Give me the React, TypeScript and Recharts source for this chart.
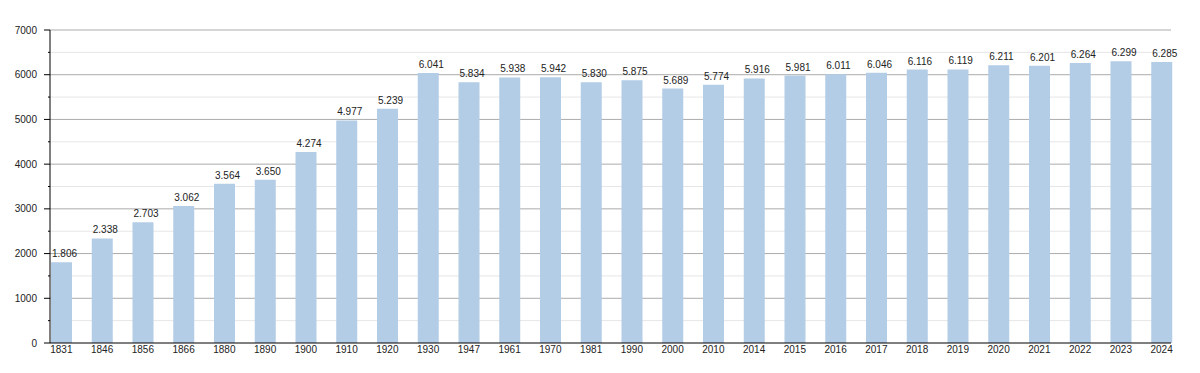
import { Bar, BarChart, CartesianGrid, LabelList, XAxis, YAxis } from "recharts"

const years = ["1831", "1846", "1856", "1866", "1880", "1890", "1900", "1910", "1920", "1930", "1947", "1961", "1970", "1981", "1990", "2000", "2010", "2014", "2015", "2016", "2017", "2018", "2019", "2020", "2021", "2022", "2023", "2024"]
const population = [1806, 2338, 2703, 3062, 3564, 3650, 4274, 4977, 5239, 6041, 5834, 5938, 5942, 5830, 5875, 5689, 5774, 5916, 5981, 6011, 6046, 6116, 6119, 6211, 6201, 6264, 6299, 6285]
const yTicks = [0, 500, 1000, 1500, 2000, 2500, 3000, 3500, 4000, 4500, 5000, 5500, 6000, 6500, 7000]
const majorLines = [1000, 2000, 3000, 4000, 5000, 6000, 7000]
const minorLines = [500, 1500, 2500, 3500, 4500, 5500, 6500]

const data = years.map((year, i) => ({ year, value: population[i] }))

const fmt = (v: number) => String(v).replace(/\B(?=(\d{3})+(?!\d))/g, ".")

const font = "'Liberation Sans', Arial, sans-serif"

function YTick(props: any) {
  const { x, y, payload } = props
  const major = payload.value % 1000 === 0
  return (
    <g>
      <line x1={x - (major ? 6 : 2)} x2={x} y1={y} y2={y} stroke="#000" />
      {major && (
        <text x={x - 13} y={y} dy="0.35em" textAnchor="end" fontSize={10} fill="#222" fontFamily={font}>
          {payload.value}
        </text>
      )}
    </g>
  )
}

function ValueLabel(props: any) {
  const { x, y, value } = props
  return (
    <text x={x + 1} y={y - 5} textAnchor="start" fontSize={10} fill="#222" fontFamily={font}>
      {fmt(value)}
    </text>
  )
}

export default function App() {
  return (
    <div style={{ position: "absolute", left: 0, top: 0, background: "#fff" }}>
      <BarChart width={1200} height={373} data={data} margin={{ top: 30, right: 29, bottom: 0, left: 0 }}>
        <CartesianGrid vertical={false} horizontalValues={minorLines} stroke="#e6e6e6" />
        <CartesianGrid vertical={false} horizontalValues={majorLines} stroke="#ababab" />
        <XAxis
          dataKey="year"
          height={30}
          padding={{ left: -9, right: -11 }}
          axisLine={{ stroke: "#000" }}
          tickLine={false}
          tickSize={0}
          tickMargin={3}
          interval={0}
          tick={{ fontSize: 10, fill: "#222", fontFamily: font }}
        />
        <YAxis
          width={50}
          domain={[0, 7000]}
          ticks={yTicks}
          interval={0}
          axisLine={{ stroke: "#000" }}
          tickLine={false}
          tickSize={0}
          tickMargin={0}
          tick={<YTick />}
        />
        <Bar dataKey="value" fill="#b3cde6" barSize={21} isAnimationActive={false}>
          <LabelList dataKey="value" content={<ValueLabel />} />
        </Bar>
      </BarChart>
    </div>
  )
}
